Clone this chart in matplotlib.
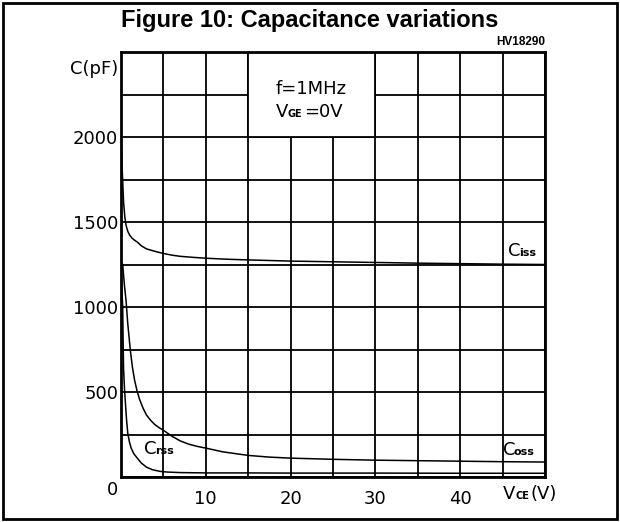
import matplotlib
matplotlib.use('Agg')
import matplotlib.pyplot as plt
from matplotlib.patches import Rectangle
from matplotlib.transforms import offset_copy

# values (V_CE in volts, C in pF)
v_ciss = [0.0, 0.05, 0.1, 0.2, 0.3, 0.45, 0.6, 0.8, 1.0, 1.3, 1.6, 1.9, 2.4, 3.0, 3.6, 4.2,
          5, 6, 7, 8.5, 10, 12.5, 15, 20, 25, 30, 35, 40, 45, 50]
c_ciss = [2000, 1940, 1850, 1740, 1620, 1530, 1480, 1445, 1425, 1405, 1393, 1383, 1360, 1342, 1333, 1325,
          1315, 1305, 1298, 1292, 1287, 1281, 1277, 1270, 1266, 1262, 1258, 1255, 1252, 1250]

v_coss = [0.2, 0.4, 0.6, 0.8, 1.1, 1.35, 1.6, 1.9, 2.2, 2.6, 3.0, 3.5, 4.0, 4.5, 5.0,
          6, 7, 8, 9, 10, 12, 15, 17.5, 20, 25, 30, 35, 40, 45, 50]
c_coss = [1250, 1130, 1035, 900, 745, 645, 570, 505, 455, 405, 365, 333, 308, 290, 275,
          240, 212, 193, 180, 170, 148, 127, 117, 111, 104, 99, 96, 93, 90, 88]

v_crss = [0.05, 0.15, 0.2, 0.25, 0.3, 0.4, 0.5, 0.65, 0.8, 1.0, 1.2, 1.5, 1.9, 2.4, 3.0,
          3.7, 4.6, 5.5, 7, 8.5, 10, 15, 20, 30, 40, 50]
c_crss = [1150, 1050, 1000, 800, 640, 530, 450, 340, 257, 205, 170, 138, 112, 82, 58,
          43, 33, 29, 26, 25, 24, 24, 23, 23, 22, 22]

x_ticks = list(range(0, 51, 5))
x_labels = ['', '', '10', '', '20', '', '30', '', '40', '', '']
y_ticks = list(range(0, 2501, 250))
y_labels = ['' if v % 500 or v in (0, 2500) else str(v) for v in y_ticks]

W, H = 620, 522
def fx(px):
    return px / W
def fy(py):
    return 1 - py / H

fig = plt.figure(figsize=(6.2, 5.22), dpi=100)
ax = fig.add_axes([fx(121), fy(477), (545 - 121) / W, (477 - 52) / H])

ax.plot(v_ciss, c_ciss, color='black', lw=1.1, zorder=2)
ax.plot(v_coss, c_coss, color='black', lw=1.1, zorder=2)
ax.plot(v_crss, c_crss, color='black', lw=1.1, zorder=2)

ax.set_xlim(0, 50)
ax.set_ylim(0, 2500)
ax.set_xticks(x_ticks)
ax.set_xticklabels(x_labels)
ax.set_yticks(y_ticks)
ax.set_yticklabels(y_labels)
ax.tick_params(length=0, labelsize=13)
ax.tick_params(axis='x', pad=9)
ax.tick_params(axis='y', pad=2)
ax.set_axisbelow(True)
ax.grid(True, color='black', lw=1.3)
for s in ax.spines.values():
    s.set_linewidth(2.0)
    s.set_zorder(3)

# white box holding the test conditions
ax.add_patch(Rectangle((15, 2000), 15, 500, facecolor='white', edgecolor='black', lw=1.3, zorder=1))
ax.text(22.4, 2255, 'f=1MHz', fontsize=13, ha='center', va='baseline', zorder=4)

def subtext(x, y, big, small, trans, gap, size=13, ssize=8, after=None, gap2=0):
    ax.text(x, y, big, transform=trans, fontsize=size, ha='left', va='baseline', zorder=4)
    t2 = offset_copy(trans, fig=fig, x=gap, y=0, units='dots')
    ax.text(x, y, small, transform=t2, fontsize=ssize, fontweight='bold',
            ha='left', va='baseline', zorder=4)
    if after:
        t3 = offset_copy(trans, fig=fig, x=gap2, y=0, units='dots')
        ax.text(x, y, after, transform=t3, fontsize=size, ha='left', va='baseline', zorder=4)

subtext(18.3, 2115, 'V', 'GE', ax.transData, 11, ssize=7, after='=0V', gap2=28)
subtext(45.6, 1298, 'C', 'iss', ax.transData, 11)
subtext(45.0, 129, 'C', 'oss', ax.transData, 11)
subtext(2.7, 134, 'C', 'rss', ax.transData, 11)

# axis captions
ax.text(-3 / 424, 1 - 17 / 425, 'C(pF)', transform=ax.transAxes, fontsize=13,
        ha='right', va='center')
ax.text(-8 / 424, -13 / 425, '0', transform=ax.transAxes, fontsize=13,
        ha='center', va='center')
subtext(-42 / 424 + 1, -22 / 425, 'V', 'CE', ax.transAxes, 12, ssize=7, after='(V)', gap2=28)

fig.text(0.5, fy(20), 'Figure 10: Capacitance variations', fontsize=17,
         fontweight='bold', family='Liberation Sans', ha='center', va='center')
fig.text(fx(545), fy(42), 'HV18290', fontsize=8.5, fontweight='bold',
         family='Liberation Sans', ha='right', va='center')

fig.add_artist(Rectangle((fx(3), fy(519)), (614) / W, (516) / H,
                         transform=fig.transFigure, fill=False, lw=2.0, color='black'))

fig.savefig('out.png', dpi=100)
